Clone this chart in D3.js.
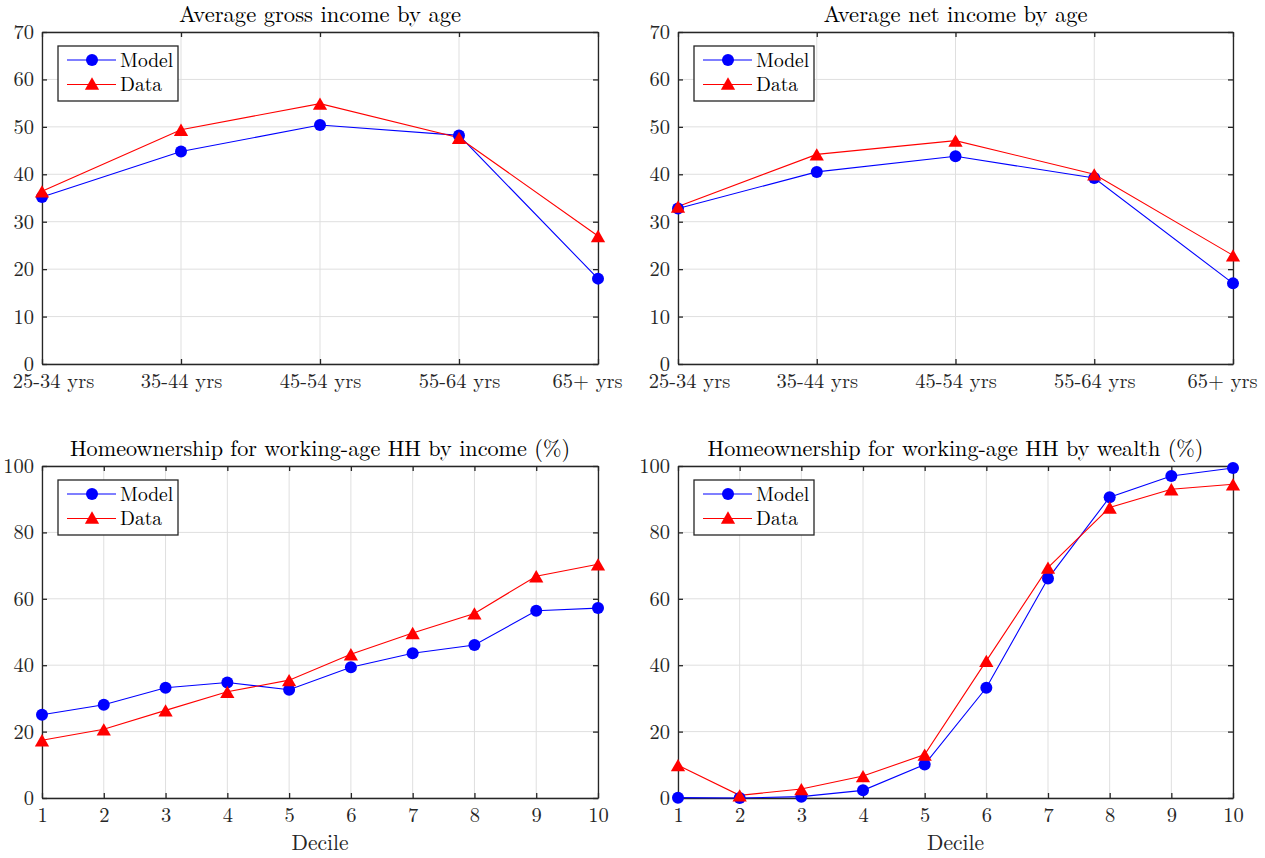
<!DOCTYPE html>
<html><head><meta charset="utf-8">
<script src="https://cdn.jsdelivr.net/npm/d3@7"></script>
<style>html,body{margin:0;padding:0;background:#fff;}</style>
</head>
<body><svg id="c" width="1265" height="858"></svg>
<script>
// ---- data ----
const ageCategories = ["25-34 yrs","35-44 yrs","45-54 yrs","55-64 yrs","65+ yrs"];
const deciles = [1,2,3,4,5,6,7,8,9,10];
const grossModel = [35.2, 44.8, 50.4, 48.2, 18.0];
const grossData  = [36.4, 49.4, 54.9, 47.7, 27.0];
const netModel = [32.8, 40.5, 43.8, 39.2, 17.0];
const netData  = [33.2, 44.2, 47.1, 40.0, 22.9];
const incomeModel = [25.1, 28.1, 33.2, 34.8, 32.6, 39.4, 43.6, 46.1, 56.4, 57.2];
const incomeData  = [17.4, 20.7, 26.4, 32.0, 35.5, 43.3, 49.7, 55.6, 66.8, 70.4];
const wealthModel = [0.1, 0.0, 0.4, 2.3, 10.1, 33.2, 66.1, 90.6, 97.0, 99.4];
const wealthData  = [9.9, 0.8, 2.7, 6.6, 13.1, 41.3, 69.4, 87.5, 93.0, 94.5];
const ageYTicks = [0,10,20,30,40,50,60,70];
const pctYTicks = [0,20,40,60,80,100];
const seriesNames = ["Model","Data"];
const titles = ["Average gross income by age","Average net income by age",
  "Homeownership for working-age HH by income (%)","Homeownership for working-age HH by wealth (%)"];
const xAxisLabel = "Decile";

// ---- layout ----
const FONT = '"Latin Modern Roman","CMU Serif","Liberation Serif",serif';
const svg = d3.select("#c");
const cols = [[42,598],[678,1233]];
const rows = [[32,364],[466,798]];
const panels = [
  {title:titles[0], cats:ageCategories, model:grossModel, data:grossData, yMax:70, yTicks:ageYTicks, col:0, row:0},
  {title:titles[1], cats:ageCategories, model:netModel, data:netData, yMax:70, yTicks:ageYTicks, col:1, row:0},
  {title:titles[2], cats:deciles, model:incomeModel, data:incomeData, yMax:100, yTicks:pctYTicks, col:0, row:1, xlabel:xAxisLabel},
  {title:titles[3], cats:deciles, model:wealthModel, data:wealthData, yMax:100, yTicks:pctYTicks, col:1, row:1, xlabel:xAxisLabel}
];
const blue="#0000ff", red="#ff0000", axisCol="#262626", gridCol="#dfdfdf";
const tickLen=5;
const triangle = d3.symbol().type(d3.symbolTriangle).size(88);
const triShift = 2.1; // centre triangle's bounding box on the point

panels.forEach(p=>{
  const [x0,x1]=cols[p.col], [y0,y1]=rows[p.row];
  const isCat = typeof p.cats[0] === "string";
  const x = isCat ? d3.scalePoint().domain(p.cats).range([x0,x1]).padding(0)
                  : d3.scaleLinear().domain([1,10]).range([x0,x1]);
  const y = d3.scaleLinear().domain([0,p.yMax]).range([y1,y0]);
  const g = svg.append("g");
  // grid
  g.append("g").selectAll("line").data(p.cats).join("line")
    .attr("x1",d=>x(d)).attr("x2",d=>x(d)).attr("y1",y0).attr("y2",y1)
    .attr("stroke",gridCol).attr("stroke-width",1);
  g.append("g").selectAll("line").data(p.yTicks).join("line")
    .attr("x1",x0).attr("x2",x1).attr("y1",d=>y(d)).attr("y2",d=>y(d))
    .attr("stroke",gridCol).attr("stroke-width",1);
  // axes with inner ticks
  const ax = (gen, tx, ty) => g.append("g").attr("transform",`translate(${tx},${ty})`).call(gen);
  const xb = ax(d3.axisBottom(x).tickValues(p.cats).tickSizeInner(-tickLen).tickSizeOuter(0).tickPadding(14), 0, y1);
  const xt = ax(d3.axisTop(x).tickValues(p.cats).tickSizeInner(-tickLen).tickSizeOuter(0).tickFormat(""), 0, y0);
  const yl = ax(d3.axisLeft(y).tickValues(p.yTicks).tickSizeInner(-tickLen).tickSizeOuter(0).tickPadding(8), x0, 0);
  const yr = ax(d3.axisRight(y).tickValues(p.yTicks).tickSizeInner(-tickLen).tickSizeOuter(0).tickFormat(""), x1, 0);
  [xb,xt,yl,yr].forEach(a=>{
    a.attr("font-family",null);
    a.select(".domain").attr("stroke",axisCol).attr("stroke-width",1.3);
    a.selectAll(".tick line").attr("stroke",axisCol).attr("stroke-width",1.3);
    a.selectAll("text").style("font-family",FONT).style("font-size","20.5px").attr("fill",axisCol);
  });
  xb.selectAll("text").attr("dy","0.5em");
  if(isCat){
    // end labels are pulled inward, as in the reference
    const n = p.cats.length;
    xb.selectAll(".tick text").attr("dx",(d,i)=> i===0 ? 11 : (i===n-1 ? -11 : 0));
  }
  // title
  g.append("text").attr("x",(x0+x1)/2).attr("y",y0-10).attr("text-anchor","middle")
    .style("font-family",FONT).style("font-size",(isCat?"22.6px":"22.2px")).attr("fill","#000").text(p.title);
  if(p.xlabel) g.append("text").attr("x",(x0+x1)/2).attr("y",y1+52).attr("text-anchor","middle")
    .style("font-family",FONT).style("font-size","21.5px").attr("fill",axisCol).text(p.xlabel);
  // lines
  const line = d3.line().x((d,i)=>x(p.cats[i])).y(d=>y(d));
  g.append("path").attr("d",line(p.model)).attr("fill","none").attr("stroke",blue).attr("stroke-width",1.1);
  g.append("path").attr("d",line(p.data)).attr("fill","none").attr("stroke",red).attr("stroke-width",1.1);
  g.append("g").selectAll("circle").data(p.model).join("circle")
    .attr("cx",(d,i)=>x(p.cats[i])).attr("cy",d=>y(d)).attr("r",6).attr("fill",blue);
  g.append("g").selectAll("path").data(p.data).join("path")
    .attr("d",triangle).attr("transform",(d,i)=>`translate(${x(p.cats[i])},${y(d)+triShift})`).attr("fill",red);
  // legend
  const lx=x0+16, ly=y0+14, lw=120, lh=55;
  const lg = g.append("g");
  lg.append("rect").attr("x",lx).attr("y",ly).attr("width",lw).attr("height",lh)
    .attr("fill","#fff").attr("stroke",axisCol).attr("stroke-width",1.3);
  seriesNames.forEach((n,i)=>{
    const cy = ly+14+i*24.5, col = i===0?blue:red;
    lg.append("line").attr("x1",lx+9).attr("x2",lx+58).attr("y1",cy).attr("y2",cy).attr("stroke",col).attr("stroke-width",1.1);
    if(i===0) lg.append("circle").attr("cx",lx+34).attr("cy",cy).attr("r",6).attr("fill",blue);
    else lg.append("path").attr("d",triangle).attr("transform",`translate(${lx+34},${cy+triShift-1})`).attr("fill",red);
    lg.append("text").attr("x",lx+62).attr("y",cy).attr("dy","0.35em")
      .style("font-family",FONT).style("font-size","19.5px").attr("fill","#000").text(n);
  });
});
</script></body></html>
